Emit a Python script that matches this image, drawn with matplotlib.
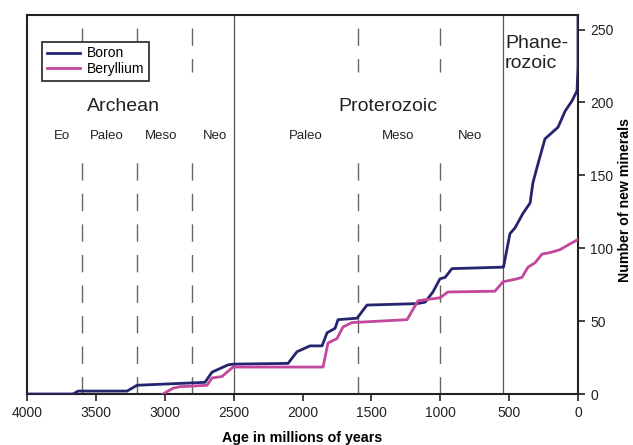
import numpy as np
import matplotlib.pyplot as plt

plt.rcParams['font.family'] = ['Liberation Sans', 'DejaVu Sans']

# Boron: age (Ma) vs cumulative number of new minerals
boron_age = [4000, 3666, 3630, 3274, 3201, 2708, 2657, 2540, 2500, 2105, 2040,
             1946, 1858, 1822, 1764, 1742, 1604, 1532, 1169, 1110, 1053, 1002,
             965, 915, 552, 541, 494, 457, 399, 348, 327, 290, 240, 145, 94,
             44, 7, 0, 0]
boron_val = [0, 0, 2, 2, 6, 8, 15, 20, 20.5, 21, 29,
             33, 33, 42, 45, 51, 52, 61, 62, 63, 70, 79,
             80, 86, 87, 87, 110, 114, 124, 131, 145, 158, 175, 183, 194,
             201, 208, 224, 262]

# Beryllium
beryl_age = [3013, 2940, 2890, 2693, 2657, 2585, 2504, 2500, 1851, 1815, 1750,
             1706, 1641, 1241, 1161, 1002, 944, 603, 544, 443, 407, 363, 312,
             261, 203, 131, 58, 0]
beryl_val = [0, 4, 5, 6, 11, 12, 18.5, 18.5, 18.5, 35, 38,
             46, 49, 51, 64, 66, 70, 70.5, 77, 79, 80, 87, 90,
             96, 97, 99, 103, 106]

# Eon / era boundaries
eon_bounds = [2500, 541]
era_bounds = [3600, 3200, 2800, 1600, 1000]

eons = ["Archean", "Proterozoic"]
eon_x = [3303, 1379]
eras = ["Eo", "Paleo", "Meso", "Neo", "Paleo", "Meso", "Neo"]
era_x = [3746, 3419, 3027, 2635, 1975, 1307, 784]

fig = plt.figure(figsize=(6.33, 4.45), dpi=100)
ax = fig.add_axes([0.0427, 0.1146, 0.8704, 0.8517])

dash = (0, (12.5, 9.5))
for b in eon_bounds:
    ax.axvline(b, color='#555555', lw=0.9, zorder=1)
for b in era_bounds:
    # lower part drawn from the bottom, upper part drawn from the top
    ax.axvline(b, ymin=0, ymax=0.64, color='#666666', lw=1.0,
               linestyle=dash, zorder=1)
    ax.axvline(b, ymin=0.966, ymax=0.85, color='#666666', lw=1.0,
               linestyle=dash, zorder=1)

ax.plot(boron_age, boron_val, color='#25246f', lw=2.0, label='Boron', zorder=3)
ax.plot(beryl_age, beryl_val, color='#c2479d', lw=2.0, label='Beryllium', zorder=3)

for name, x in zip(eons, eon_x):
    ax.text(x, 197, name, fontsize=14, ha='center', va='center', color='#222222')
ax.text(530, 246, "Phane-\nrozoic", fontsize=14, ha='left', va='top',
        color='#222222', linespacing=1.2)
for name, x in zip(eras, era_x):
    ax.text(x, 177, name, fontsize=9.5, ha='center', va='center', color='#222222')

ax.set_xlim(4000, 0)
ax.set_ylim(0, 260)
ax.set_xticks(np.arange(4000, -1, -500))
ax.set_yticks(np.arange(0, 251, 50))
ax.yaxis.tick_right()
ax.yaxis.set_label_position('right')
ax.tick_params(direction='out', length=5, width=1.2, labelsize=10,
               colors='#222222')
ax.tick_params(axis='y', pad=4)
for s in ax.spines.values():
    s.set_linewidth(1.5)
    s.set_color('#222222')

ax.set_xlabel("Age in millions of years", fontsize=10.3, fontweight='bold',
              labelpad=8)
ax.set_ylabel("Number of new minerals", fontsize=10.2, fontweight='bold')
ax.yaxis.set_label_coords(1.073, 0.512)

leg = ax.legend(loc='upper left', bbox_to_anchor=(0.027, 0.93), borderaxespad=0,
                fontsize=10, handlelength=2.4, handletextpad=0.5,
                labelspacing=0.1, borderpad=0.35, fancybox=False,
                edgecolor='#222222', framealpha=1)
leg.get_frame().set_linewidth(1.2)

plt.savefig("out.png", dpi=100)
